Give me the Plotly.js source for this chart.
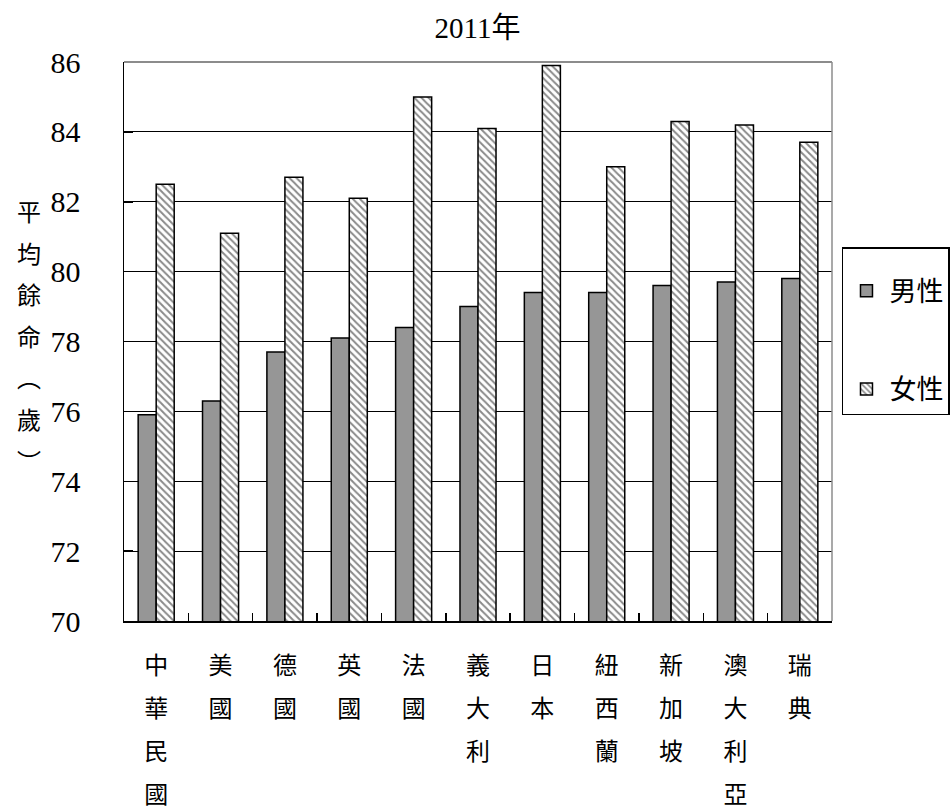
<!DOCTYPE html>
<html>
<head>
<meta charset="utf-8">
<script src="https://cdn.plot.ly/plotly-3.0.1.min.js"></script>
<style>html,body{margin:0;padding:0;background:#fff;}</style>
</head>
<body>
<div id="chart" style="width:952px;height:810px;"></div>
<script>
const categories = ['中華民國','美國','德國','英國','法國','義大利','日本','紐西蘭','新加坡','澳大利亞','瑞典'];
const maleValues = [75.9, 76.3, 77.7, 78.1, 78.4, 79.0, 79.4, 79.4, 79.6, 79.7, 79.8];
const femaleValues = [82.5, 81.1, 82.7, 82.1, 85.0, 84.1, 85.9, 83.0, 84.3, 84.2, 83.7];
const yTickValues = [70, 72, 74, 76, 78, 80, 82, 84, 86];
const seriesNames = ['男性', '女性'];
const chartTitle = '2011年';
const yTitle = '平均餘命︵歲︶';

const FONT = '"Liberation Serif", "Noto Sans CJK TC", serif';
const vertical = (s, sz) => Array.from(s).map(c => '<span style="font-size:' + sz + 'px">' + c + '</span>').join('<br>');

const traces = [
  {
    type: 'bar', name: seriesNames[0], x: categories, y: maleValues,
    legendgroup: 'm',
    marker: { color: '#969696', line: { color: '#000', width: 1.5 } }
  },
  {
    type: 'bar', name: seriesNames[1], x: categories, y: femaleValues,
    legendgroup: 'f',
    marker: {
      color: '#ffffff',
      line: { color: '#000', width: 1.5 },
      pattern: { shape: '\\', fgcolor: '#8a8a8a', bgcolor: '#ffffff', size: 5, solidity: 0.4 }
    }
  }
];

const layout = {
  width: 952, height: 810,
  margin: { l: 124, r: 120, t: 62, b: 189, autoexpand: false },
  paper_bgcolor: '#fff', plot_bgcolor: '#fff',
  font: { family: FONT, color: '#000', size: 24 },
  title: { text: chartTitle, x: 0.5016, xanchor: 'center', y: 0.9655, yanchor: 'middle', font: { family: FONT, size: 29, color: '#000' } },
  barmode: 'group', bargap: 0.44, bargroupgap: 0,
  showlegend: true,
  legend: {
    x: 1.0141, xanchor: 'left', y: 0.669, yanchor: 'top',
    bordercolor: '#000', borderwidth: 1.5, bgcolor: '#fff',
    font: { family: FONT, size: 27, color: '#000' },
    title: { text: ' ', font: { size: 14 } },
    traceorder: 'grouped', tracegroupgap: 60,
    itemwidth: 36
  },
  xaxis: {
    type: 'category',
    tickmode: 'array', tickvals: categories,
    ticktext: categories.map(c => vertical(c, 24)),
    tickfont: { family: FONT, size: 33, color: '#000' },
    showline: true, linecolor: '#000', linewidth: 1.5,
    ticks: 'inside', tickson: 'boundaries', ticklen: 8, tickwidth: 1.5, tickcolor: '#000',
    showgrid: false, zeroline: false, fixedrange: true, automargin: false,
    ticklabelstandoff: 12
  },
  yaxis: {
    range: [70, 86], tickmode: 'array', tickvals: yTickValues,
    tickfont: { family: FONT, size: 30, color: '#000' },
    showline: true, linecolor: '#000', linewidth: 1.5,
    ticks: 'inside', ticklen: 9, tickwidth: 1.5, tickcolor: '#000',
    showgrid: true, gridcolor: '#000', gridwidth: 1.2,
    zeroline: false, fixedrange: true, automargin: false,
    ticklabelstandoff: 36
  },
  shapes: [
    { type: 'line', xref: 'paper', yref: 'paper', x0: 0, x1: 1, y0: 1, y1: 1, line: { color: '#8c8c8c', width: 2 }, layer: 'above' },
    { type: 'line', xref: 'paper', yref: 'paper', x0: 1, x1: 1, y0: 0, y1: 1, line: { color: '#8c8c8c', width: 1.5 }, layer: 'above' }
  ],
  annotations: [
    {
      text: vertical(yTitle, 24), xref: 'paper', yref: 'paper',
      x: -0.134, y: 0.507, xanchor: 'center', yanchor: 'middle',
      showarrow: false, font: { family: FONT, size: 32, color: '#000' }
    }
  ]
};

Plotly.newPlot('chart', traces, layout, { displayModeBar: false, staticPlot: true });
</script>
</body>
</html>
